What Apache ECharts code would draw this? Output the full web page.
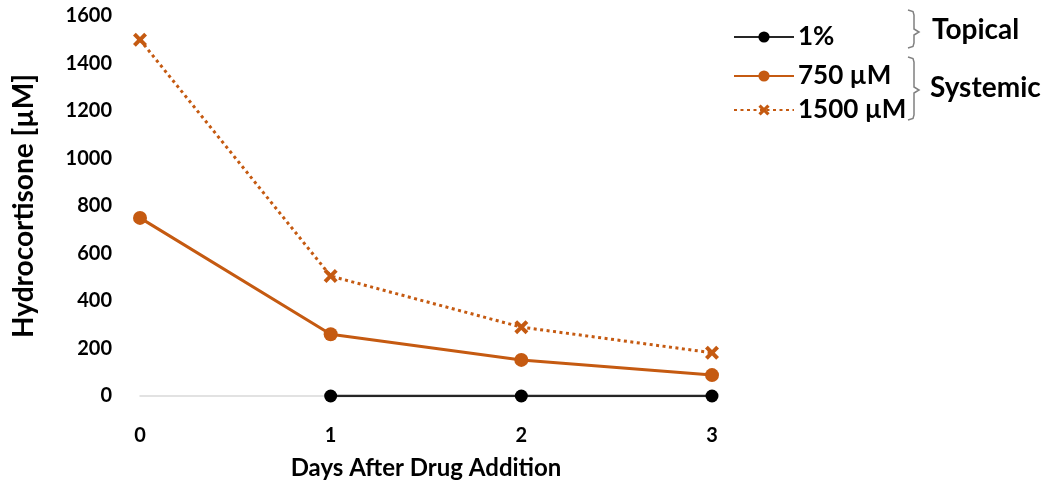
<!DOCTYPE html>
<html><head><meta charset="utf-8">
<script src="https://cdn.jsdelivr.net/npm/echarts@6/dist/echarts.min.js"></script>
<style>html,body{margin:0;padding:0;background:#fff}#c{width:1050px;height:490px}</style>
</head><body><div id="c"></div>
<script>
const days = ['0', '1', '2', '3'];
const topical1pct = [null, 0, 0, 0];
const systemic750 = [750, 260, 152, 88];
const systemic1500 = [1500, 505, 290, 182];
const seriesNames = ['1%', '750 µM', '1500 µM'];
const groupLabels = ['Topical', 'Systemic'];

const FONT = 'Lato, "Open Sans", sans-serif';
const ORANGE = '#c55a11';
const starPath = 'path://M2,0 L5,3 L8,0 L10,2 L7,5 L10,8 L8,10 L5,7 L2,10 L0,8 L3,5 L0,2 Z';

function brace(x0, y0, y1, ymid, w) {
  const x1 = x0 + w, x2 = x0 + w + 5;
  return [[x0, y0], [x1 - 1, y0 + 1.5], [x1, y0 + 5], [x1, ymid - 3], [x2, ymid],
          [x1, ymid + 3], [x1, y1 - 5], [x1 - 1, y1 - 1.5], [x0, y1]];
}

const legendTops = [19, 58, 92];
const legends = seriesNames.map((n, i) => ({
  orient: 'horizontal', left: 728, top: legendTops[i],
  itemWidth: 60, itemHeight: 14, itemGap: 0,
  textStyle: { fontFamily: FONT, fontSize: 26, fontWeight: 'bold', color: '#000', padding: [0, 0, 0, -1] },
  data: [n]
}));

const chart = echarts.init(document.getElementById('c'));
chart.setOption({
  animation: false,
  textStyle: { fontFamily: FONT },
  grid: { left: 140, right: 338, top: 16, bottom: 94 },
  legend: legends,
  xAxis: {
    type: 'category', data: days, boundaryGap: false,
    name: 'Days After Drug Addition', nameLocation: 'middle', nameGap: 60,
    nameTextStyle: { fontFamily: FONT, fontSize: 24, fontWeight: 'bold', color: '#000' },
    axisLine: { lineStyle: { color: '#d9d9d9', width: 1.5 } },
    axisTick: { show: false },
    axisLabel: { margin: 30, fontSize: 20, fontWeight: 'bold', color: '#000', fontFamily: FONT }
  },
  yAxis: {
    type: 'value', min: 0, max: 1600, interval: 200,
    name: 'Hydrocortisone [µM]', nameLocation: 'middle', nameGap: 102, nameRotate: 90,
    nameTextStyle: { fontFamily: FONT, fontSize: 28, fontWeight: 'bold', color: '#000' },
    axisLine: { show: false }, axisTick: { show: false },
    splitLine: { show: false },
    axisLabel: { margin: 28, fontSize: 20, fontWeight: 'bold', color: '#000', fontFamily: FONT,
      formatter: v => String(v) }
  },
  series: [
    { name: seriesNames[0], type: 'line', data: topical1pct, symbol: 'circle', symbolSize: 13,
      itemStyle: { color: '#000' }, lineStyle: { color: '#262626', width: 2.5 } },
    { name: seriesNames[1], type: 'line', data: systemic750, symbol: 'circle', symbolSize: 14,
      itemStyle: { color: ORANGE }, lineStyle: { color: ORANGE, width: 3 } },
    { name: seriesNames[2], type: 'line', data: systemic1500, symbol: starPath, symbolSize: 14,
      itemStyle: { color: ORANGE }, lineStyle: { color: ORANGE, width: 3, type: [3, 3.5] } }
  ],
  graphic: [
    { type: 'polyline', shape: { points: brace(908, 10, 48, 32, 6) },
      style: { fill: 'none', stroke: '#808080', lineWidth: 1.5 } },
    { type: 'polyline', shape: { points: brace(908, 57, 120, 90, 6) },
      style: { fill: 'none', stroke: '#808080', lineWidth: 1.5 } },
    { type: 'text', left: 932, top: 16,
      style: { text: groupLabels[0], font: 'bold 28px ' + FONT, fill: '#000' } },
    { type: 'text', left: 930, top: 74,
      style: { text: groupLabels[1], font: 'bold 28px ' + FONT, fill: '#000' } }
  ]
});
</script>
</body></html>
